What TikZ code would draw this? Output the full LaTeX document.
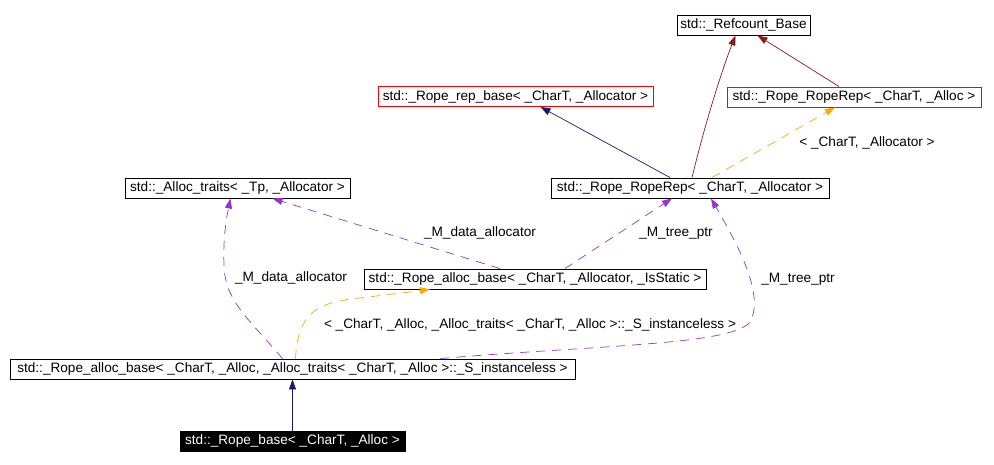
\documentclass[tikz,border=0pt]{standalone}
\usepackage{fontspec}
\setmainfont{Liberation Sans}
\usepackage{tikz}
\usetikzlibrary{arrows.meta,positioning,calc}

\definecolor{inhcol}{RGB}{25,25,112}
\definecolor{refcol}{RGB}{139,26,26}
\definecolor{usecol}{RGB}{153,50,204}
\definecolor{argcol}{RGB}{255,165,0}

\begin{document}
\begin{tikzpicture}[x=1pt, y=-1pt,
    cls/.style={rectangle, draw=black, line width=0.9pt, inner sep=0pt, minimum height=20pt, text centered, font=\fontsize{13.6}{15}\selectfont},
    tmpl/.style={cls, draw=red},
    base/.style={cls, fill=black, text=white},
    inherit/.style={-{Triangle[length=10pt,width=7pt]}, draw=inhcol, line width=0.7pt},
    refcnt/.style={-{Triangle[length=10pt,width=7pt]}, draw=refcol, line width=0.7pt},
    use/.style={-{Triangle[length=10pt,width=7pt]}, draw=usecol, line width=0.7pt, dash pattern=on 9pt off 7pt},
    tplarg/.style={-{Triangle[length=10pt,width=7pt]}, draw=argcol, line width=0.7pt, dash pattern=on 9pt off 7pt},
    lbl/.style={font=\fontsize{13.6}{15}\selectfont, inner sep=0pt}
]
\useasboundingbox (0,0) rectangle (994,465);

% Classes
\node[cls, minimum width=133pt] (refcount) at (743.5,25) {std::\_Refcount\_Base};
\node[tmpl, minimum width=275pt] (repbase) at (515.5,96.5) {std::\_Rope\_rep\_base< \_CharT, \_Allocator >};
\node[tmpl, minimum width=254pt] (reprepalloc) at (854,97) {std::\_Rope\_RopeRep< \_CharT, \_Alloc >};
\node[cls, minimum width=225pt] (traits) at (237.5,188) {std::\_Alloc\_traits< \_Tp, \_Allocator >};
\node[cls, minimum width=278pt] (reprep) at (690,188) {std::\_Rope\_RopeRep< \_CharT, \_Allocator >};
\node[cls, minimum width=342pt] (allocstatic) at (535,279) {std::\_Rope\_alloc\_base< \_CharT, \_Allocator, \_IsStatic >};
\node[cls, minimum width=565pt] (allocinst) at (292.5,369) {std::\_Rope\_alloc\_base< \_CharT, \_Alloc, \_Alloc\_traits< \_CharT, \_Alloc >::\_S\_instanceless >};
\node[base, minimum width=225pt] (ropebase) at (292.5,441) {std::\_Rope\_base< \_CharT, \_Alloc >};

% Labels
\node[lbl] (l1) at (867,143) {< \_CharT, \_Allocator >};
\node[lbl] (l2) at (480,233) {\_M\_data\_allocator};
\node[lbl] (l3) at (676,233) {\_M\_tree\_ptr};
\node[lbl] (l4) at (291,278) {\_M\_data\_allocator};
\node[lbl] (l5) at (798,279) {\_M\_tree\_ptr};
\node[lbl] (l6) at (530,325) {< \_CharT, \_Alloc, \_Alloc\_traits< \_CharT, \_Alloc >::\_S\_instanceless >};

% Relationships
\draw[inherit] (ropebase) -- (allocinst);
\draw[inherit] ([xshift=-20pt]reprep.north) -- ([xshift=25pt]repbase.south);
\draw[refcnt] ([xshift=2pt]reprep.north) .. controls (706,120) and (722,70) .. ([xshift=-8pt]refcount.south);
\draw[refcnt] ([xshift=-15pt]reprepalloc.north) -- ([xshift=14pt]refcount.south);
\draw[tplarg] ([xshift=22pt]reprep.north) -- ([xshift=-19pt]reprepalloc.south);
\draw[use] ([xshift=-35pt]allocstatic.north) -- ([xshift=35pt]traits.south);
\draw[use] ([xshift=30pt]allocstatic.north) -- ([xshift=-18pt]reprep.south);
\draw[use] ([xshift=-10pt]allocinst.north) .. controls (245,315) and (225,300) .. (224,265) .. controls (223,240) and (226,220) .. ([xshift=-7pt]traits.south);
\draw[tplarg] ([xshift=3pt]allocinst.north) .. controls (298,312) and (318,302) .. (360,298) -- ([xshift=-105pt]allocstatic.south);
\draw[use] ([xshift=148pt]allocinst.north) .. controls (600,345) and (732,345) .. (750,322) .. controls (765,295) and (738,245) .. ([xshift=21pt]reprep.south);

\end{tikzpicture}
\end{document}
